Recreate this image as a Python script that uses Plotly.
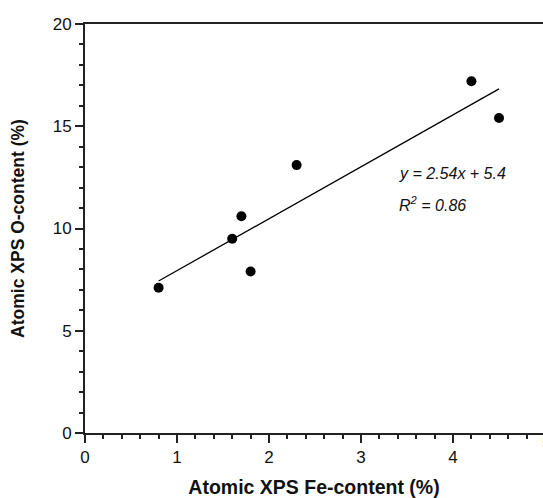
import numpy as np
import plotly.graph_objects as go

fe_content = [0.8, 1.6, 1.7, 1.8, 2.3, 4.2, 4.5]
o_content = [7.1, 9.5, 10.6, 7.9, 13.1, 17.2, 15.4]
slope = 2.54
intercept = 5.4
r_squared = 0.86
x_ticks = [0, 1, 2, 3, 4, 5]
y_ticks = [0, 5, 10, 15, 20]

XMAX = 4.978
FONT = "Arial, Liberation Sans, sans-serif"

fit_x = np.array([min(fe_content), max(fe_content)])
fit_y = slope * fit_x + intercept

fig = go.Figure()
fig.add_trace(go.Scatter(x=fit_x, y=fit_y, mode="lines",
                         line=dict(color="black", width=1.3), showlegend=False))
fig.add_trace(go.Scatter(x=fe_content, y=o_content, mode="markers",
                         marker=dict(color="black", size=10), showlegend=False))

axis_common = dict(showgrid=False, zeroline=False, showline=True, linecolor="#222",
                   linewidth=2, ticks="outside", ticklen=8, tickwidth=1.5,
                   tickcolor="#222", tickfont=dict(family=FONT, size=17, color="#111"))

fig.update_xaxes(range=[0, XMAX], tickvals=x_ticks, mirror=True,
                 minor=dict(dtick=0.2, ticks="outside", ticklen=4, tickwidth=1.5, tickcolor="#222"),
                 title=dict(text="<b>Atomic XPS Fe-content (%)</b>",
                            font=dict(family=FONT, size=19.5, color="#111"), standoff=16),
                 **axis_common)
fig.update_yaxes(range=[0, 20], tickvals=y_ticks,
                 minor=dict(dtick=1, ticks="outside", ticklen=4, tickwidth=1.5, tickcolor="#222"),
                 title=dict(text="<b>Atomic XPS O-content (%)</b>",
                            font=dict(family=FONT, size=17.5, color="#111"), standoff=24),
                 **axis_common)

fig.add_annotation(x=1.0, xref="paper", y=0, yref="paper", xanchor="left",
                   xshift=-3, yshift=-21, text=str(x_ticks[-1]), showarrow=False,
                   font=dict(family=FONT, size=17, color="#111"))
fig.add_annotation(x=3.39, y=12.71, xref="x", yref="y", xanchor="left",
                   text=f"<i>y = {slope}x + {intercept}</i>", showarrow=False,
                   font=dict(family=FONT, size=16, color="#111"))
fig.add_annotation(x=3.39, y=11.2, xref="x", yref="y", xanchor="left",
                   text=f"<i>R<sup>2</sup> = {r_squared}</i>", showarrow=False,
                   font=dict(family=FONT, size=16, color="#111"))

fig.update_layout(width=543, height=498, margin=dict(l=85, r=0, t=24, b=65),
                  plot_bgcolor="white", paper_bgcolor="white")

fig.write_html("out.html")
